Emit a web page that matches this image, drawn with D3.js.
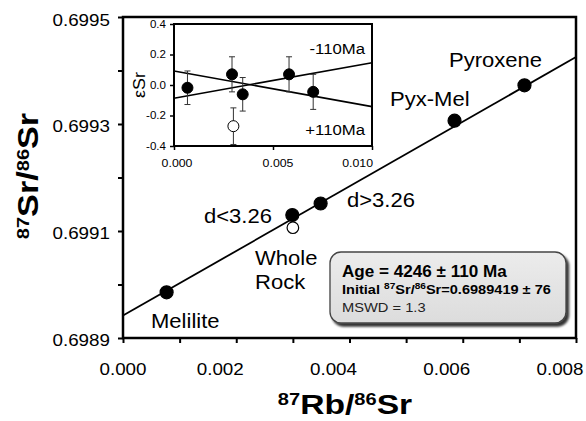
<!DOCTYPE html>
<html><head><meta charset="utf-8">
<script src="https://cdn.jsdelivr.net/npm/d3@7"></script>
<style>body{margin:0;background:#fff}svg{display:block;font-family:"Liberation Sans",Arial,sans-serif}</style>
</head><body>
<svg id="c" width="586" height="421"></svg>
<script>
// ---- data ----
const mainNames = ["Melilite","d<3.26","Whole Rock","d>3.26","Pyx-Mel","Pyroxene"];
const mainRb = [0.00077, 0.00299, 0.00300, 0.00349, 0.005855, 0.00709];
const mainSr = [0.6989854, 0.6991299, 0.6991062, 0.6991514, 0.6993062, 0.6993723];
const mainOpen = [false, false, true, false, false, false];
const isoRb = [0, 0.008];
const isoSr = [0.6989419, 0.6994251];
const xTicks = [0, 0.001, 0.002, 0.003, 0.004, 0.005, 0.006, 0.007, 0.008];
const xTickLabels = ["0.000","","0.002","","0.004","","0.006","","0.008"];
const yTicks = [0.6989, 0.6990, 0.6991, 0.6992, 0.6993, 0.6994, 0.6995];
const yTickLabels = ["0.6989","","0.6991","","0.6993","","0.6995"];

const insRb = [0.00068, 0.00293, 0.00347, 0.00581, 0.00703, 0.00300];
const insEps = [-0.018, 0.07, -0.061, 0.07, -0.045, -0.27];
const insErr = [0.11, 0.115, 0.11, 0.115, 0.115, 0.12];
const insOpen = [false, false, false, false, false, true];
const insLineX = [0, 0.010];
const insLineMinus = [-0.087, 0.146];  // -110Ma
const insLinePlus = [0.092, -0.142];   // +110Ma
const insYTicks = [-0.4, -0.2, 0.0, 0.2, 0.4];
const insXTicks = [0, 0.005, 0.010];

const svg = d3.select("#c");
const x = d3.scaleLinear().domain([0, 0.008]).range([123, 576]);
const y = d3.scaleLinear().domain([0.6989, 0.6995]).range([338, 17]);

function txt(g, px, py, str, o) {
  o = o || {};
  const t = g.append("text")
    .attr("transform", `translate(${px},${py}) rotate(${o.rot||0}) scale(${o.sx||1.13},1)`)
    .attr("text-anchor", o.anchor || "start")
    .attr("font-size", o.size || 16)
    .attr("font-weight", o.bold ? "bold" : "normal")
    .attr("fill", o.fill || "#000");
  if (o.dy) t.attr("dy", o.dy);
  if (Array.isArray(str)) {
    str.forEach(p => {
      const ts = t.append("tspan").text(p.t);
      if (p.size) ts.attr("font-size", p.size);
      if (p.sup) ts.attr("baseline-shift", "super");
    });
  } else t.text(str);
  return t;
}

// ---- main axes ----
const gx = svg.append("g").attr("transform", "translate(0,338)")
  .call(d3.axisBottom(x).tickValues(xTicks).tickSize(5).tickFormat(""));
const gy = svg.append("g").attr("transform", "translate(123,0)")
  .call(d3.axisLeft(y).tickValues(yTicks).tickSize(5).tickFormat(""));
[gx, gy].forEach(g => { g.select(".domain").remove(); g.selectAll("line").attr("stroke", "#000").attr("stroke-width", 2); });
svg.append("rect").attr("x", x(0)).attr("y", y(0.6995)).attr("width", x(0.008) - x(0)).attr("height", y(0.6989) - y(0.6995))
  .attr("fill", "none").attr("stroke", "#000").attr("stroke-width", 2.5);
xTicks.forEach((v, i) => { if (xTickLabels[i]) txt(svg, v === 0 ? x(v) : x(v) - 16, 375, xTickLabels[i], {anchor: "middle", size: 16.5, sx: 1.14}); });
yTicks.forEach((v, i) => { if (yTickLabels[i]) txt(svg, 110, y(v), yTickLabels[i], {anchor: "end", size: 16.5, sx: 1.14, dy: i === 6 ? "0.55em" : "0.47em"}); });

// axis titles
txt(svg, 345, 414, [{t: "87", size: 17, sup: true}, {t: "Rb/"}, {t: "86", size: 17, sup: true}, {t: "Sr"}], {anchor: "middle", size: 28.5, bold: true, sx: 1.18});
txt(svg, 38, 176, [{t: "87", size: 17, sup: true}, {t: "Sr/"}, {t: "86", size: 17, sup: true}, {t: "Sr"}], {anchor: "middle", size: 29, bold: true, sx: 1.18, rot: -90});

// isochron
svg.append("line").attr("x1", x(isoRb[0])).attr("y1", y(isoSr[0])).attr("x2", x(isoRb[1])).attr("y2", y(isoSr[1]))
  .attr("stroke", "#000").attr("stroke-width", 1.8);

// points
mainRb.forEach((v, i) => {
  svg.append("circle").attr("cx", x(v)).attr("cy", y(mainSr[i])).attr("r", mainOpen[i] ? 5.8 : 6.5)
    .attr("fill", mainOpen[i] ? "#fff" : "#000").attr("stroke", "#000").attr("stroke-width", 1.2);
});

// labels
txt(svg, 449, 67, "Pyroxene", {size: 19.5});
txt(svg, 390, 106, "Pyx-Mel", {size: 19.5});
txt(svg, 347, 207, "d>3.26", {size: 19.5});
txt(svg, 204, 223, "d<3.26", {size: 19.5});
txt(svg, 255, 265, "Whole", {size: 19.5});
txt(svg, 255, 289, "Rock", {size: 19.5});
txt(svg, 151, 328, "Melilite", {size: 19.5});

// ---- result box ----
const defs = svg.append("defs");
const gr = defs.append("linearGradient").attr("id", "bg").attr("x1", 0).attr("y1", 0).attr("x2", 0).attr("y2", 1);
gr.append("stop").attr("offset", "0").attr("stop-color", "#ececec");
gr.append("stop").attr("offset", "1").attr("stop-color", "#dcdcdc");
const f = defs.append("filter").attr("id", "sh").attr("x", "-10%").attr("y", "-10%").attr("width", "130%").attr("height", "140%");
f.append("feDropShadow").attr("dx", 2.5).attr("dy", 3).attr("stdDeviation", 1.3).attr("flood-color", "#000").attr("flood-opacity", 0.8);
svg.append("rect").attr("x", 330).attr("y", 252).attr("width", 236).attr("height", 71).attr("rx", 11)
  .attr("fill", "url(#bg)").attr("stroke", "#444").attr("stroke-width", 1.3).attr("filter", "url(#sh)");
txt(svg, 342, 277, "Age = 4246 ± 110 Ma", {size: 16, bold: true, sx: 1.07});
txt(svg, 342, 294, [{t: "Initial "}, {t: "87", size: 9, sup: true}, {t: "Sr/"}, {t: "86", size: 9, sup: true}, {t: "Sr=0.6989419 ± 76"}], {size: 13, bold: true, sx: 1.12});
txt(svg, 342, 312, "MSWD = 1.3", {size: 13, sx: 1.13, fill: "#222"});

// ---- inset ----
const xi = d3.scaleLinear().domain([0, 0.010]).range([174, 372]);
const yi = d3.scaleLinear().domain([-0.4, 0.4]).range([146, 24]);
svg.append("rect").attr("x", 174).attr("y", 24).attr("width", 198).attr("height", 122).attr("fill", "#fff");
const gxi = svg.append("g").attr("transform", "translate(0,146)")
  .call(d3.axisBottom(xi).tickValues(insXTicks).tickSize(4).tickFormat(""));
const gyi = svg.append("g").attr("transform", "translate(174,0)")
  .call(d3.axisLeft(yi).tickValues(insYTicks).tickSize(4).tickFormat(""));
[gxi, gyi].forEach(g => { g.select(".domain").remove(); g.selectAll("line").attr("stroke", "#000").attr("stroke-width", 1.5); });
insYTicks.forEach(v => txt(svg, 166, yi(v), d3.format(".1f")(v).replace("−", "-"), {anchor: "end", size: 11, sx: 1.05, dy: "0.36em"}));
insXTicks.forEach((v, i) => txt(svg, i === 2 ? 373 : xi(v) + (i === 1 ? 5 : 3), 167, d3.format(".3f")(v), {anchor: i === 2 ? "end" : "middle", size: 11, sx: 1.12}));
txt(svg, 145, 85, "εSr", {anchor: "middle", size: 17, sx: 1.05, rot: -90});

const lineG = svg.append("g");
[insLineMinus, insLinePlus].forEach(ln => {
  lineG.append("line").attr("x1", xi(insLineX[0])).attr("y1", yi(ln[0])).attr("x2", xi(insLineX[1])).attr("y2", yi(ln[1]))
    .attr("stroke", "#000").attr("stroke-width", 1.6);
});
insRb.forEach((v, i) => {
  const cx = xi(v), e = insErr[i];
  const top = yi(insEps[i] + e), bot = yi(Math.max(insEps[i] - e, -0.4));
  const eb = svg.append("g").attr("stroke", "#333").attr("stroke-width", 1);
  eb.append("line").attr("x1", cx).attr("x2", cx).attr("y1", top).attr("y2", bot);
  eb.append("line").attr("x1", cx - 3).attr("x2", cx + 3).attr("y1", top).attr("y2", top);
  eb.append("line").attr("x1", cx - 3).attr("x2", cx + 3).attr("y1", bot).attr("y2", bot);
});
insRb.forEach((v, i) => {
  svg.append("circle").attr("cx", xi(v)).attr("cy", yi(insEps[i])).attr("r", 5.5)
    .attr("fill", insOpen[i] ? "#fff" : "#000").attr("stroke", "#000").attr("stroke-width", 1);
});
svg.append("rect").attr("x", 174).attr("y", 24).attr("width", 198).attr("height", 122)
  .attr("fill", "none").attr("stroke", "#000").attr("stroke-width", 2);
txt(svg, 365, 54, "-110Ma", {anchor: "end", size: 15.5, sx: 1.08});
txt(svg, 365, 135, "+110Ma", {anchor: "end", size: 15.5, sx: 1.08});
</script>
</body></html>
